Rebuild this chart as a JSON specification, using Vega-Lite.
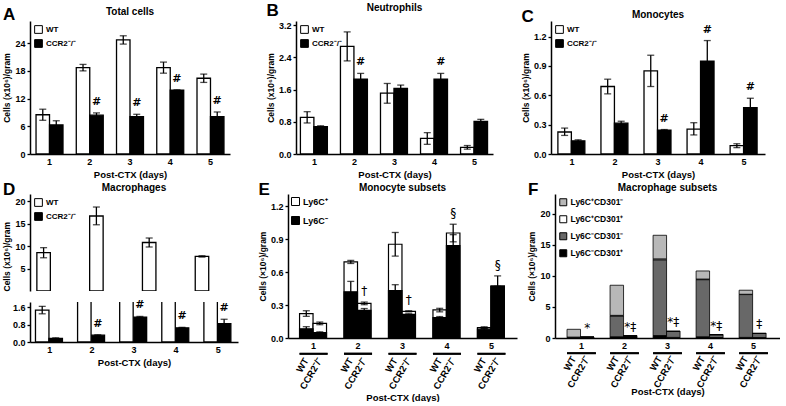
{
"$schema":"https://vega.github.io/schema/vega-lite/v6.json",
"background":"white",
"padding":{"left":2,"top":1,"right":0,"bottom":0},
"config":{
 "font":"Liberation Sans",
 "view":{"stroke":null},
 "axis":{"grid":false,"domainColor":"black","domainWidth":1.5,"tickColor":"black","tickWidth":1.3,"tickSize":3,"labelColor":"black","labelFontSize":9,"labelFontWeight":"bold","labelPadding":2,"titleColor":"black","titleFontSize":9,"titleFontWeight":"bold"},
 "axisX":{"ticks":false,"labelAngle":0,"titlePadding":3,"labelPadding":3,"titleFontSize":9.5},
 "axisY":{"titleFontSize":8.5,"titlePadding":3},
 "title":{"fontSize":10,"fontWeight":"bold","color":"black","offset":1.5,"frame":"group"},
 "legend":{"orient":"top-left","offset":4,"padding":0,"symbolType":"square","symbolStrokeColor":"black","symbolStrokeWidth":1,"symbolSize":60,"labelFontSize":8,"labelFontWeight":"bold","labelColor":"black","rowPadding":1,"labelOffset":3},
 "rule":{"color":"black"},"tick":{"color":"black"},"text":{"color":"black"}
},
"datasets":{
 "A":[
  {"day":"1","g":"WT","v":8.5,"lo":7.3,"hi":9.7,"s":""},
  {"day":"1","g":"CCR2⁻/⁻","v":6.3,"lo":5.5,"hi":7.2,"s":""},
  {"day":"2","g":"WT","v":18.7,"lo":18.0,"hi":19.4,"s":""},
  {"day":"2","g":"CCR2⁻/⁻","v":8.4,"lo":7.9,"hi":8.9,"s":"#"},
  {"day":"3","g":"WT","v":24.7,"lo":23.8,"hi":25.6,"s":""},
  {"day":"3","g":"CCR2⁻/⁻","v":8.1,"lo":7.6,"hi":8.6,"s":"#"},
  {"day":"4","g":"WT","v":18.7,"lo":17.5,"hi":19.9,"s":""},
  {"day":"4","g":"CCR2⁻/⁻","v":13.8,"lo":13.7,"hi":13.9,"s":"#"},
  {"day":"5","g":"WT","v":16.4,"lo":15.5,"hi":17.3,"s":""},
  {"day":"5","g":"CCR2⁻/⁻","v":8.1,"lo":7.2,"hi":9.1,"s":"#"}
 ],
 "B":[
  {"day":"1","g":"WT","v":0.91,"lo":0.77,"hi":1.05,"s":""},
  {"day":"1","g":"CCR2⁻/⁻","v":0.68,"lo":0.66,"hi":0.7,"s":""},
  {"day":"2","g":"WT","v":2.67,"lo":2.31,"hi":3.03,"s":""},
  {"day":"2","g":"CCR2⁻/⁻","v":1.86,"lo":1.73,"hi":2.0,"s":"#"},
  {"day":"3","g":"WT","v":1.51,"lo":1.26,"hi":1.75,"s":""},
  {"day":"3","g":"CCR2⁻/⁻","v":1.63,"lo":1.56,"hi":1.71,"s":""},
  {"day":"4","g":"WT","v":0.39,"lo":0.24,"hi":0.53,"s":""},
  {"day":"4","g":"CCR2⁻/⁻","v":1.86,"lo":1.73,"hi":2.0,"s":"#"},
  {"day":"5","g":"WT","v":0.165,"lo":0.12,"hi":0.21,"s":""},
  {"day":"5","g":"CCR2⁻/⁻","v":0.81,"lo":0.77,"hi":0.86,"s":""}
 ],
 "C":[
  {"day":"1","g":"WT","v":0.225,"lo":0.19,"hi":0.265,"s":""},
  {"day":"1","g":"CCR2⁻/⁻","v":0.135,"lo":0.125,"hi":0.145,"s":""},
  {"day":"2","g":"WT","v":0.69,"lo":0.615,"hi":0.765,"s":""},
  {"day":"2","g":"CCR2⁻/⁻","v":0.315,"lo":0.295,"hi":0.335,"s":""},
  {"day":"3","g":"WT","v":0.85,"lo":0.69,"hi":1.01,"s":""},
  {"day":"3","g":"CCR2⁻/⁻","v":0.245,"lo":0.24,"hi":0.25,"s":"#"},
  {"day":"4","g":"WT","v":0.255,"lo":0.195,"hi":0.32,"s":""},
  {"day":"4","g":"CCR2⁻/⁻","v":0.95,"lo":0.74,"hi":1.16,"s":"#"},
  {"day":"5","g":"WT","v":0.085,"lo":0.065,"hi":0.105,"s":""},
  {"day":"5","g":"CCR2⁻/⁻","v":0.475,"lo":0.38,"hi":0.57,"s":"#"}
 ],
 "D":[
  {"day":"1","g":"WT","v":1.46,"lo":1.29,"hi":1.63,"s":""},
  {"day":"1","g":"CCR2⁻/⁻","v":0.17,"lo":0.15,"hi":0.19,"s":""},
  {"day":"2","g":"WT","v":8.55,"lo":7.4,"hi":9.65,"s":""},
  {"day":"2","g":"CCR2⁻/⁻","v":0.31,"lo":0.29,"hi":0.33,"s":"#"},
  {"day":"3","g":"WT","v":16.7,"lo":14.75,"hi":18.7,"s":""},
  {"day":"3","g":"CCR2⁻/⁻","v":1.14,"lo":1.11,"hi":1.17,"s":"#"},
  {"day":"4","g":"WT","v":10.8,"lo":9.8,"hi":11.8,"s":""},
  {"day":"4","g":"CCR2⁻/⁻","v":0.65,"lo":0.63,"hi":0.67,"s":"#"},
  {"day":"5","g":"WT","v":7.7,"lo":7.55,"hi":7.85,"s":""},
  {"day":"5","g":"CCR2⁻/⁻","v":0.84,"lo":0.65,"hi":1.04,"s":"#"}
 ],
 "E":[
  {"day":"1","g":"WT","neg":0.084,"nlo":0.065,"nhi":0.103,"tot":0.222,"tlo":0.197,"thi":0.248,"s":""},
  {"day":"1","g":"CCR2⁻/⁻","neg":0.05,"nlo":0.045,"nhi":0.056,"tot":0.133,"tlo":0.121,"thi":0.145,"s":""},
  {"day":"2","g":"WT","neg":0.42,"nlo":0.32,"nhi":0.515,"tot":0.692,"tlo":0.678,"thi":0.706,"s":""},
  {"day":"2","g":"CCR2⁻/⁻","neg":0.252,"nlo":0.235,"nhi":0.268,"tot":0.315,"tlo":0.303,"thi":0.327,"s":"†"},
  {"day":"3","g":"WT","neg":0.432,"nlo":0.38,"nhi":0.485,"tot":0.853,"tlo":0.745,"thi":0.96,"s":""},
  {"day":"3","g":"CCR2⁻/⁻","neg":0.215,"nlo":0.21,"nhi":0.22,"tot":0.243,"tlo":0.238,"thi":0.248,"s":"†"},
  {"day":"4","g":"WT","neg":0.185,"nlo":0.175,"nhi":0.195,"tot":0.255,"tlo":0.238,"thi":0.27,"s":""},
  {"day":"4","g":"CCR2⁻/⁻","neg":0.84,"nlo":0.74,"nhi":0.94,"tot":0.955,"tlo":0.875,"thi":1.035,"s":"§"},
  {"day":"5","g":"WT","neg":0.08,"nlo":0.075,"nhi":0.085,"tot":0.095,"tlo":0.088,"thi":0.102,"s":""},
  {"day":"5","g":"CCR2⁻/⁻","neg":0.468,"nlo":0.465,"nhi":0.47,"tot":0.475,"tlo":0.38,"thi":0.565,"s":"§"}
 ],
 "F":[
  {"day":"1","g":"WT","sub":"Ly6C⁻CD301⁺","k":1,"v":0.03},
  {"day":"1","g":"WT","sub":"Ly6C⁻CD301⁻","k":2,"v":0.1},
  {"day":"1","g":"WT","sub":"Ly6C⁺CD301⁺","k":3,"v":0.02},
  {"day":"1","g":"WT","sub":"Ly6C⁺CD301⁻","k":4,"v":1.25},
  {"day":"1","g":"CCR2⁻/⁻","sub":"Ly6C⁻CD301⁺","k":1,"v":0.1},
  {"day":"1","g":"CCR2⁻/⁻","sub":"Ly6C⁻CD301⁻","k":2,"v":0.04},
  {"day":"1","g":"CCR2⁻/⁻","sub":"Ly6C⁺CD301⁺","k":3,"v":0.005},
  {"day":"1","g":"CCR2⁻/⁻","sub":"Ly6C⁺CD301⁻","k":4,"v":0.005},
  {"day":"2","g":"WT","sub":"Ly6C⁻CD301⁺","k":1,"v":0.2},
  {"day":"2","g":"WT","sub":"Ly6C⁻CD301⁻","k":2,"v":3.35},
  {"day":"2","g":"WT","sub":"Ly6C⁺CD301⁺","k":3,"v":0.1},
  {"day":"2","g":"WT","sub":"Ly6C⁺CD301⁻","k":4,"v":4.85},
  {"day":"2","g":"CCR2⁻/⁻","sub":"Ly6C⁻CD301⁺","k":1,"v":0.25},
  {"day":"2","g":"CCR2⁻/⁻","sub":"Ly6C⁻CD301⁻","k":2,"v":0.1},
  {"day":"2","g":"CCR2⁻/⁻","sub":"Ly6C⁺CD301⁺","k":3,"v":0.01},
  {"day":"2","g":"CCR2⁻/⁻","sub":"Ly6C⁺CD301⁻","k":4,"v":0.01},
  {"day":"3","g":"WT","sub":"Ly6C⁻CD301⁺","k":1,"v":0.4},
  {"day":"3","g":"WT","sub":"Ly6C⁻CD301⁻","k":2,"v":12.2},
  {"day":"3","g":"WT","sub":"Ly6C⁺CD301⁺","k":3,"v":0.15},
  {"day":"3","g":"WT","sub":"Ly6C⁺CD301⁻","k":4,"v":3.8},
  {"day":"3","g":"CCR2⁻/⁻","sub":"Ly6C⁻CD301⁺","k":1,"v":0.1},
  {"day":"3","g":"CCR2⁻/⁻","sub":"Ly6C⁻CD301⁻","k":2,"v":0.95},
  {"day":"3","g":"CCR2⁻/⁻","sub":"Ly6C⁺CD301⁺","k":3,"v":0.02},
  {"day":"3","g":"CCR2⁻/⁻","sub":"Ly6C⁺CD301⁻","k":4,"v":0.03},
  {"day":"4","g":"WT","sub":"Ly6C⁻CD301⁺","k":1,"v":0.2},
  {"day":"4","g":"WT","sub":"Ly6C⁻CD301⁻","k":2,"v":9.2},
  {"day":"4","g":"WT","sub":"Ly6C⁺CD301⁺","k":3,"v":0.1},
  {"day":"4","g":"WT","sub":"Ly6C⁺CD301⁻","k":4,"v":1.3},
  {"day":"4","g":"CCR2⁻/⁻","sub":"Ly6C⁻CD301⁺","k":1,"v":0.08},
  {"day":"4","g":"CCR2⁻/⁻","sub":"Ly6C⁻CD301⁻","k":2,"v":0.45},
  {"day":"4","g":"CCR2⁻/⁻","sub":"Ly6C⁺CD301⁺","k":3,"v":0.01},
  {"day":"4","g":"CCR2⁻/⁻","sub":"Ly6C⁺CD301⁻","k":4,"v":0.01},
  {"day":"5","g":"WT","sub":"Ly6C⁻CD301⁺","k":1,"v":0.1},
  {"day":"5","g":"WT","sub":"Ly6C⁻CD301⁻","k":2,"v":6.9},
  {"day":"5","g":"WT","sub":"Ly6C⁺CD301⁺","k":3,"v":0.05},
  {"day":"5","g":"WT","sub":"Ly6C⁺CD301⁻","k":4,"v":0.65},
  {"day":"5","g":"CCR2⁻/⁻","sub":"Ly6C⁻CD301⁺","k":1,"v":0.08},
  {"day":"5","g":"CCR2⁻/⁻","sub":"Ly6C⁻CD301⁻","k":2,"v":0.65},
  {"day":"5","g":"CCR2⁻/⁻","sub":"Ly6C⁺CD301⁺","k":3,"v":0.01},
  {"day":"5","g":"CCR2⁻/⁻","sub":"Ly6C⁺CD301⁻","k":4,"v":0.01}
 ],
 "Fs":[
  {"day":"1","g":"WT","tot":1.4,"s":""},
  {"day":"1","g":"CCR2⁻/⁻","tot":0.15,"s":"*"},
  {"day":"2","g":"WT","tot":8.5,"s":""},
  {"day":"2","g":"CCR2⁻/⁻","tot":0.37,"s":"*‡"},
  {"day":"3","g":"WT","tot":16.55,"s":""},
  {"day":"3","g":"CCR2⁻/⁻","tot":1.1,"s":"*‡"},
  {"day":"4","g":"WT","tot":10.8,"s":""},
  {"day":"4","g":"CCR2⁻/⁻","tot":0.55,"s":"*‡"},
  {"day":"5","g":"WT","tot":7.7,"s":""},
  {"day":"5","g":"CCR2⁻/⁻","tot":0.75,"s":"‡"}
 ]
},
"spacing":2,
"resolve":{"scale":{"color":"independent"},"legend":{"color":"independent"}},
"vconcat":[
 {"hconcat":[
  {"title":{"text":"A","anchor":"start","fontSize":17,"offset":-16.5,"frame":"bounds"},
   "resolve":{"scale":{"color":"independent"},"legend":{"color":"independent"}},
   "hconcat":[{
    "width":200,"height":133,
    "title":{"text":"Total cells"},
    "data":{"name":"A"},
    "encoding":{
     "x":{"field":"day","type":"ordinal","scale":{"paddingInner":0.33,"paddingOuter":0.15},"axis":{"title":"Post-CTX (days)"}},
     "xOffset":{"field":"g","type":"nominal","scale":{"domain":["WT","CCR2⁻/⁻"]}},
     "y":{"field":"v","type":"quantitative","scale":{"domain":[0,28.8],"nice":false},"axis":{"values":[0,6,12,18,24]},"title":"Cells (x10⁶)/gram"}
    },
    "layer":[
     {"mark":{"type":"bar","stroke":"black","strokeWidth":1.3},"encoding":{"color":{"field":"g","type":"nominal","scale":{"domain":["WT","CCR2⁻/⁻"],"range":["white","black"]},"legend":{"title":null}}}},
     {"mark":{"type":"rule","strokeWidth":1.3},"encoding":{"y":{"field":"lo","type":"quantitative","title":"Cells (x10⁶)/gram"},"y2":{"field":"hi"}}},
     {"mark":{"type":"tick","thickness":1.3,"size":7},"encoding":{"y":{"field":"lo","type":"quantitative","title":"Cells (x10⁶)/gram"}}},
     {"mark":{"type":"tick","thickness":1.3,"size":7},"encoding":{"y":{"field":"hi","type":"quantitative","title":"Cells (x10⁶)/gram"}}},
     {"mark":{"type":"text","font":"DejaVu Sans","fontWeight":"bold","fill":"black","fontSize":11,"baseline":"middle","dy":-11},"encoding":{"y":{"field":"hi","type":"quantitative","title":"Cells (x10⁶)/gram"},"text":{"field":"s"}}}
    ]
   }]
  },
  {"hconcat":[
  {"title":{"text":"B","anchor":"start","fontSize":17,"offset":-16.5,"frame":"bounds"},
   "resolve":{"scale":{"color":"independent"},"legend":{"color":"independent"}},
   "hconcat":[{
    "width":197,"height":133,
    "title":{"text":"Neutrophils"},
    "data":{"name":"B"},
    "encoding":{
     "x":{"field":"day","type":"ordinal","scale":{"paddingInner":0.3,"paddingOuter":0.11},"axis":{"title":"Post-CTX (days)"}},
     "xOffset":{"field":"g","type":"nominal","scale":{"domain":["WT","CCR2⁻/⁻"]}},
     "y":{"field":"v","type":"quantitative","scale":{"domain":[0,3.3],"nice":false},"axis":{"values":[0,0.8,1.6,2.4,3.2],"format":".1f"},"title":"Cells (x10⁶)/gram"}
    },
    "layer":[
     {"mark":{"type":"bar","stroke":"black","strokeWidth":1.3},"encoding":{"color":{"field":"g","type":"nominal","scale":{"domain":["WT","CCR2⁻/⁻"],"range":["white","black"]},"legend":{"title":null}}}},
     {"mark":{"type":"rule","strokeWidth":1.3},"encoding":{"y":{"field":"lo","type":"quantitative","title":"Cells (x10⁶)/gram"},"y2":{"field":"hi"}}},
     {"mark":{"type":"tick","thickness":1.3,"size":7},"encoding":{"y":{"field":"lo","type":"quantitative","title":"Cells (x10⁶)/gram"}}},
     {"mark":{"type":"tick","thickness":1.3,"size":7},"encoding":{"y":{"field":"hi","type":"quantitative","title":"Cells (x10⁶)/gram"}}},
     {"mark":{"type":"text","font":"DejaVu Sans","fontWeight":"bold","fill":"black","fontSize":11,"baseline":"middle","dy":-11},"encoding":{"y":{"field":"hi","type":"quantitative","title":"Cells (x10⁶)/gram"},"text":{"field":"s"}}}
    ]
   }]
  },
  {"title":{"text":"C","anchor":"start","fontSize":17,"offset":-16.5,"frame":"bounds"},
   "resolve":{"scale":{"color":"independent"},"legend":{"color":"independent"}},
   "hconcat":[{
    "width":214,"height":133,
    "title":{"text":"Monocytes"},
    "data":{"name":"C"},
    "encoding":{
     "x":{"field":"day","type":"ordinal","scale":{"paddingInner":0.35,"paddingOuter":0.16},"axis":{"title":"Post-CTX (days)"}},
     "xOffset":{"field":"g","type":"nominal","scale":{"domain":["WT","CCR2⁻/⁻"]}},
     "y":{"field":"v","type":"quantitative","scale":{"domain":[0,1.36],"nice":false},"axis":{"values":[0,0.3,0.6,0.9,1.2],"format":".1f"},"title":"Cells (x10⁶)/gram"}
    },
    "layer":[
     {"mark":{"type":"bar","stroke":"black","strokeWidth":1.3},"encoding":{"color":{"field":"g","type":"nominal","scale":{"domain":["WT","CCR2⁻/⁻"],"range":["white","black"]},"legend":{"title":null}}}},
     {"mark":{"type":"rule","strokeWidth":1.3},"encoding":{"y":{"field":"lo","type":"quantitative","title":"Cells (x10⁶)/gram"},"y2":{"field":"hi"}}},
     {"mark":{"type":"tick","thickness":1.3,"size":7},"encoding":{"y":{"field":"lo","type":"quantitative","title":"Cells (x10⁶)/gram"}}},
     {"mark":{"type":"tick","thickness":1.3,"size":7},"encoding":{"y":{"field":"hi","type":"quantitative","title":"Cells (x10⁶)/gram"}}},
     {"mark":{"type":"text","font":"DejaVu Sans","fontWeight":"bold","fill":"black","fontSize":11,"baseline":"middle","dy":-11},"encoding":{"y":{"field":"hi","type":"quantitative","title":"Cells (x10⁶)/gram"},"text":{"field":"s"}}}
    ]
   }]
  }
  ],"spacing":28,"resolve":{"scale":{"color":"independent"},"legend":{"color":"independent"}}}
 ],"spacing":36,"resolve":{"scale":{"color":"independent"},"legend":{"color":"independent"}}},
 {"hconcat":[
  {"title":{"text":"D","anchor":"start","fontSize":17,"offset":-16.5,"frame":"bounds"},
   "resolve":{"scale":{"color":"independent"},"legend":{"color":"independent"}},
   "spacing":-2,
   "vconcat":[
    {
    "width":208,"height":97,
    "title":{"text":"Macrophages"},
    "data":{"name":"D"},
    "encoding":{
     "x":{"field":"day","type":"ordinal","scale":{"paddingInner":0.32,"paddingOuter":0.13},"axis":null},
     "xOffset":{"field":"g","type":"nominal","scale":{"domain":["WT","CCR2⁻/⁻"]}},
     "y":{"field":"v","type":"quantitative","scale":{"domain":[1.9,21.6],"nice":false,"zero":true},"axis":{"values":[5,10,15,20],"titleAnchor":"start"},"title":"Cells (x10⁶)/gram"}
    },
    "layer":[
     {"transform":[{"filter":"datum.v < 0"}],"mark":{"type":"bar","stroke":"black","strokeWidth":1.3},"encoding":{"color":{"field":"g","type":"nominal","scale":{"domain":["WT","CCR2⁻/⁻"],"range":["white","black"]},"legend":{"title":null}}}},
     {"transform":[{"filter":"datum.v > 2"}],"mark":{"type":"bar","fill":"white","stroke":"black","strokeWidth":1.3,"clip":true}},
     {"transform":[{"filter":"datum.v > 2"}],"mark":{"type":"rule","strokeWidth":1.3},"encoding":{"y":{"field":"lo","type":"quantitative","title":"Cells (x10⁶)/gram"},"y2":{"field":"hi"}}},
     {"transform":[{"filter":"datum.v > 2"}],"mark":{"type":"tick","thickness":1.3,"size":7},"encoding":{"y":{"field":"lo","type":"quantitative","title":"Cells (x10⁶)/gram"}}},
     {"transform":[{"filter":"datum.v > 2"}],"mark":{"type":"tick","thickness":1.3,"size":7},"encoding":{"y":{"field":"hi","type":"quantitative","title":"Cells (x10⁶)/gram"}}}
    ]
    },
    {
    "width":208,"height":40,
    "data":{"name":"D"},
    "encoding":{
     "x":{"field":"day","type":"ordinal","scale":{"paddingInner":0.32,"paddingOuter":0.13},"axis":{"title":"Post-CTX (days)"}},
     "xOffset":{"field":"g","type":"nominal","scale":{"domain":["WT","CCR2⁻/⁻"]}},
     "y":{"field":"v","type":"quantitative","scale":{"domain":[0,1.83],"nice":false},"axis":{"values":[0,0.8,1.6],"format":".1f"},"title":null}
    },
    "layer":[
     {"transform":[{"filter":"datum.v < 2"}],"mark":{"type":"bar","stroke":"black","strokeWidth":1.3},"encoding":{"color":{"field":"g","type":"nominal","scale":{"domain":["WT","CCR2⁻/⁻"],"range":["white","black"]},"legend":null}}},
     {"transform":[{"filter":"datum.v > 2"}],"mark":{"type":"bar","fill":"white","stroke":"black","strokeWidth":1.3,"clip":true},"encoding":{"y":{"datum":1.95,"title":null},"y2":{"datum":0}}},
     {"transform":[{"filter":"datum.v < 2"}],"mark":{"type":"rule","strokeWidth":1.3},"encoding":{"y":{"field":"lo","type":"quantitative","title":null},"y2":{"field":"hi"}}},
     {"transform":[{"filter":"datum.v < 2"}],"mark":{"type":"tick","thickness":1.3,"size":7},"encoding":{"y":{"field":"lo","type":"quantitative","title":null}}},
     {"transform":[{"filter":"datum.v < 2"}],"mark":{"type":"tick","thickness":1.3,"size":7},"encoding":{"y":{"field":"hi","type":"quantitative","title":null}}},
     {"transform":[{"filter":"datum.v < 2"}],"mark":{"type":"text","font":"DejaVu Sans","fontWeight":"bold","fill":"black","fontSize":11,"baseline":"middle","dy":-11},"encoding":{"y":{"field":"hi","type":"quantitative","title":null},"text":{"field":"s"}}}
    ]
    }
   ]
  },
  {"hconcat":[
  {"title":{"text":"E","anchor":"start","fontSize":17,"offset":-16.5,"frame":"bounds"},
   "resolve":{"scale":{"color":"independent"},"legend":{"color":"independent"}},
   "hconcat":[{
    "width":229,"height":144,
    "title":{"text":"Monocyte subsets"},
    "data":{"name":"E"},
    "encoding":{
     "x":{"field":"day","type":"ordinal","scale":{"paddingInner":0.37,"paddingOuter":0.26},"axis":{"title":"Post-CTX (days)","titlePadding":42}},
     "y":{"field":"tot","type":"quantitative","scale":{"domain":[0,1.31],"nice":false},"axis":{"values":[0,0.3,0.6,0.9,1.2],"format":".1f"},"title":"Cells (×10⁶)/gram"}
    },
    "layer":[
     {"mark":{"type":"bar","stroke":"black","strokeWidth":1.2},"encoding":{"xOffset":{"field":"g","type":"nominal","scale":{"domain":["WT","CCR2⁻/⁻"]}},"color":{"datum":"Ly6C⁺","type":"nominal","scale":{"domain":["Ly6C⁺","Ly6C⁻"],"range":["white","black"]},"legend":{"title":null,"labelFontSize":9,"rowPadding":6,"symbolSize":64,"offset":3}}}},
     {"mark":{"type":"bar","stroke":"black","strokeWidth":1.2},"encoding":{"xOffset":{"field":"g","type":"nominal","scale":{"domain":["WT","CCR2⁻/⁻"]}},"y":{"field":"neg","type":"quantitative","title":"Cells (×10⁶)/gram"},"color":{"datum":"Ly6C⁻","type":"nominal"}}},
     {"mark":{"type":"rule","strokeWidth":1.3},"encoding":{"xOffset":{"field":"g","type":"nominal","scale":{"domain":["WT","CCR2⁻/⁻"]}},"y":{"field":"nlo","type":"quantitative","title":"Cells (×10⁶)/gram"},"y2":{"field":"nhi"}}},
     {"mark":{"type":"tick","thickness":1.3,"size":7},"encoding":{"xOffset":{"field":"g","type":"nominal","scale":{"domain":["WT","CCR2⁻/⁻"]}},"y":{"field":"nhi","type":"quantitative","title":"Cells (×10⁶)/gram"}}},
     {"mark":{"type":"rule","strokeWidth":1.3},"encoding":{"xOffset":{"field":"g","type":"nominal","scale":{"domain":["WT","CCR2⁻/⁻"]}},"y":{"field":"tlo","type":"quantitative","title":"Cells (×10⁶)/gram"},"y2":{"field":"thi"}}},
     {"mark":{"type":"tick","thickness":1.3,"size":7},"encoding":{"xOffset":{"field":"g","type":"nominal","scale":{"domain":["WT","CCR2⁻/⁻"]}},"y":{"field":"tlo","type":"quantitative","title":"Cells (×10⁶)/gram"}}},
     {"mark":{"type":"tick","thickness":1.3,"size":7},"encoding":{"xOffset":{"field":"g","type":"nominal","scale":{"domain":["WT","CCR2⁻/⁻"]}},"y":{"field":"thi","type":"quantitative","title":"Cells (×10⁶)/gram"}}},
     {"mark":{"type":"text","font":"DejaVu Sans","fill":"black","fontSize":12,"baseline":"middle","dy":-11},"encoding":{"xOffset":{"field":"g","type":"nominal","scale":{"domain":["WT","CCR2⁻/⁻"]}},"y":{"field":"thi","type":"quantitative","title":"Cells (×10⁶)/gram"},"text":{"field":"s"}}},
     {"mark":{"type":"text","fontSize":9.5,"fontWeight":"bold","fill":"black","angle":300,"align":"right","baseline":"middle"},"encoding":{"xOffset":{"field":"g","type":"nominal","scale":{"domain":["WT","CCR2⁻/⁻"]}},"y":{"datum":-0.19},"text":{"field":"g"}}},
     {"mark":{"type":"bar","color":"black"},"encoding":{"y":{"datum":-0.135},"y2":{"datum":-0.152}}}
    ]
   }]
  },
  {"title":{"text":"F","anchor":"start","fontSize":17,"offset":-16.5,"frame":"bounds"},
   "resolve":{"scale":{"color":"independent"},"legend":{"color":"independent"}},
   "hconcat":[{
    "width":225,"height":144,
    "title":{"text":"Macrophage subsets"},
    "encoding":{
     "x":{"field":"day","type":"ordinal","scale":{"paddingInner":0.33,"paddingOuter":0.28},"axis":{"title":"Post-CTX (days)","titlePadding":36}}
    },
    "layer":[
     {"data":{"name":"F"},"mark":{"type":"bar","stroke":"black","strokeWidth":0.8},"encoding":{"xOffset":{"field":"g","type":"nominal","scale":{"domain":["WT","CCR2⁻/⁻"]}},"y":{"field":"v","type":"quantitative","stack":"zero","scale":{"domain":[0,23.2],"nice":false},"axis":{"values":[0,5,10,15,20]},"title":"Cells (×10⁶)/gram"},"color":{"field":"sub","type":"nominal","scale":{"domain":["Ly6C⁺CD301⁻","Ly6C⁺CD301⁺","Ly6C⁻CD301⁻","Ly6C⁻CD301⁺"],"range":["#b8b8b8","white","#686868","black"]},"legend":{"title":null,"labelFontSize":8.5,"rowPadding":5,"symbolSize":49,"offset":4}},"order":{"field":"k","type":"quantitative"}}},
     {"data":{"name":"Fs"},"mark":{"type":"text","font":"DejaVu Sans","fill":"black","fontSize":12,"baseline":"bottom","dy":-2},"encoding":{"xOffset":{"field":"g","type":"nominal","scale":{"domain":["WT","CCR2⁻/⁻"]}},"y":{"field":"tot","type":"quantitative","axis":{"values":[0,5,10,15,20]},"title":"Cells (×10⁶)/gram"},"text":{"field":"s"}}},
     {"data":{"name":"Fs"},"mark":{"type":"text","fontSize":9.5,"fontWeight":"bold","fill":"black","angle":300,"align":"right","baseline":"middle"},"encoding":{"xOffset":{"field":"g","type":"nominal","scale":{"domain":["WT","CCR2⁻/⁻"]}},"y":{"datum":-3.1,"axis":{"values":[0,5,10,15,20]}},"text":{"field":"g"}}},
     {"data":{"name":"Fs"},"mark":{"type":"bar","color":"black"},"encoding":{"y":{"datum":-2.3,"axis":{"values":[0,5,10,15,20]}},"y2":{"datum":-2.6}}}
    ]
   }]
  }
  ],"spacing":10,"resolve":{"scale":{"color":"independent"},"legend":{"color":"independent"}}}
 ],"spacing":20,"resolve":{"scale":{"color":"independent"},"legend":{"color":"independent"}}}
]
}
